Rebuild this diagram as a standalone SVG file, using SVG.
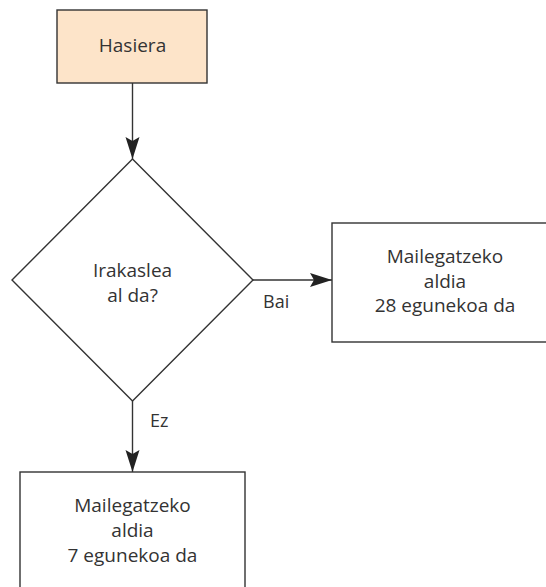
<svg xmlns="http://www.w3.org/2000/svg" width="546" height="587" viewBox="0 0 546 587">
<style>
.box{fill:#fff;stroke:#333;stroke-width:1.4}
.start{fill:#fde4c9;stroke:#333;stroke-width:1.4}
.t{font-family:"Open Sans","Liberation Sans",sans-serif;font-size:19px;fill:#333;text-anchor:middle}
.lbl{font-family:"Open Sans","Liberation Sans",sans-serif;font-size:18px;fill:#333}
.edge{stroke:#333;stroke-width:1.4;fill:none}
</style>
<defs>
<marker id="arr" markerUnits="userSpaceOnUse" markerWidth="24" markerHeight="16" refX="22" refY="7" orient="auto">
<path d="M0,0 L22,7 L0,14 L4,7 Z" fill="#222"/>
</marker>
</defs>
<rect width="546" height="587" fill="#fff"/>
<g id="connectors">
<line class="edge" x1="132.5" y1="83" x2="132.5" y2="159" marker-end="url(#arr)"/>
<line class="edge" x1="253" y1="280" x2="332" y2="280" marker-end="url(#arr)"/>
<line class="edge" x1="132.5" y1="401" x2="132.5" y2="472" marker-end="url(#arr)"/>
<text class="lbl" x="263" y="308">Bai</text>
<text class="lbl" x="150" y="427">Ez</text>
</g>
<g id="hasiera">
<rect class="start" x="57" y="10" width="150" height="73"/>
<text class="t" x="132.5" y="52">Hasiera</text>
</g>
<g id="irakaslea">
<polygon class="box" points="132.5,159 253,280 132.5,401 12,280"/>
<text class="t" x="132.5" y="277">Irakaslea</text>
<text class="t" x="132.5" y="302">al da?</text>
</g>
<g id="bai-box">
<rect class="box" x="332" y="223" width="220" height="119"/>
<text class="t" x="445" y="263">Mailegatzeko</text>
<text class="t" x="445" y="288">aldia</text>
<text class="t" x="445" y="312">28 egunekoa da</text>
</g>
<g id="ez-box">
<rect class="box" x="20" y="472" width="225" height="125"/>
<text class="t" x="132.5" y="512">Mailegatzeko</text>
<text class="t" x="132.5" y="537">aldia</text>
<text class="t" x="132.5" y="562">7 egunekoa da</text>
</g>
</svg>
